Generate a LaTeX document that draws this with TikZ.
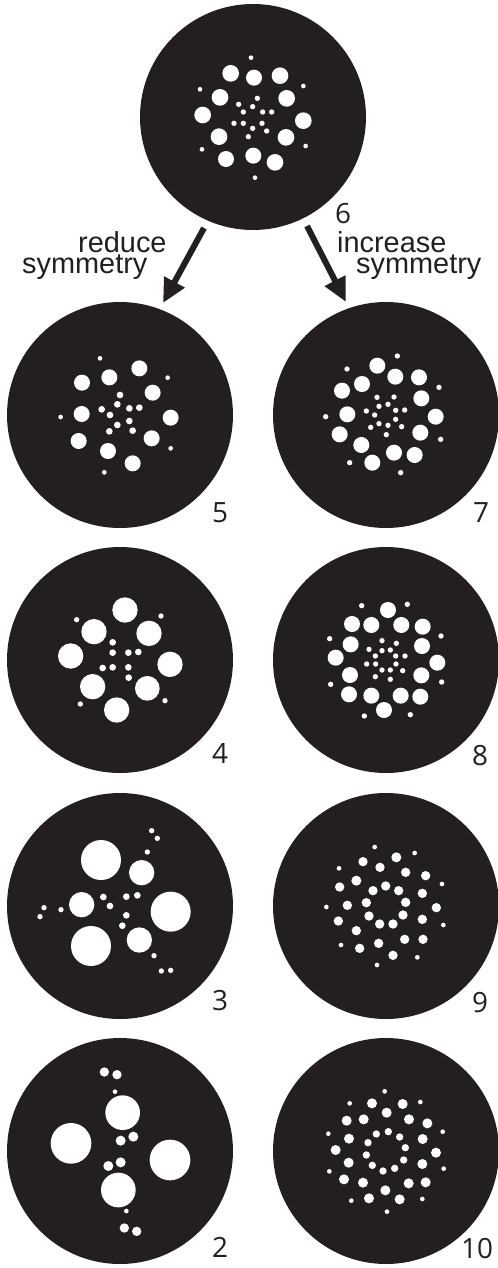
\documentclass[tikz,border=0pt]{standalone}
\usepackage{fontspec}
\setmainfont{Liberation Sans}
\newfontfamily\digitfont{Open Sans}
\usetikzlibrary{arrows.meta}
\definecolor{diskcol}{HTML}{231F20}
\begin{document}
\begin{tikzpicture}[x=1bp,y=-1bp,
  disk/.style={fill=diskcol},
  hole/.style={fill=white},
  lbl/.style={font=\fontsize{29}{21}\selectfont, text=diskcol, inner sep=0pt, align=left, anchor=base west},
  num/.style={font=\digitfont\fontsize{28}{28}\selectfont, text=diskcol, inner sep=0pt, anchor=base west},
  arr/.style={draw=diskcol, line width=6bp, -{Triangle[length=24bp,width=22bp]}},
  zoomed/.style={shift={#1}, scale=0.333333}]
\useasboundingbox (0,0) rectangle (498,1268);

% ---------- disk 6 ----------
\begin{scope}[zoomed={(140,0)}]
\fill[disk] (339,351) circle[radius=339];
\foreach \x/\y/\r in {272/220/25,342/233/24,420/227/25,240/292/25,440/295/25,188/345/25,
  490/362/25,237/410/25,438/412/25,258/477/24,340/467/24,405/487/25,
  333/173/7,180/268/7,490/258/7,186/448/7,497/438/7,345/533/7,
  352/295/8,296/313/8,338/320/8,310/336/8,368/336/8,395/336/8,282/370/8,310/370/8,
  366/370/8,338/385/8,380/393/8,325/410/8}
  \fill[hole] (\x,\y) circle[radius=\r];
\end{scope}

% ---------- disk 5 ----------
\begin{scope}[zoomed={(0,270)}]
\fill[disk] (360,435) circle[radius=339];
\foreach \x/\y/\r in {418/295/24,328/322/24,246/338/24,458/368/24,245/432/24,512/443/24,
  236/513/24,455/505/24,324/543/24,398/580/24,
  300/265/7,503/323/7,182/441/7,512/535/7,313/607/7,
  360/375/10,352/403/10,305/418/10,388/415/10,418/413/10,330/435/10,388/453/10,
  352/465/10,398/482/10,328/484/10}
  \fill[hole] (\x,\y) circle[radius=\r];
\end{scope}

% ---------- disk 7 ----------
\begin{scope}[zoomed={(258,270)}]
\fill[disk] (384,435) circle[radius=339];
\foreach \x/\y/\r in {358/287/24,412/320/24,483/322/24,312/342/24,252/362/24,490/385/24,
  268/433/24,533/440/24,245/493/24,487/488/24,310/525/24,408/548/24,470/555/24,343/578/24,
  418/258/8,267/297/8,543/352/8,203/440/8,548/508/8,275/578/8,428/608/8,
  357/382/8,408/381/8,390/403/8,363/409/8,325/423/8,413/421/8,440/420/8,350/435/8,
  413/448/8,363/461/8,390/466/8,338/472/8,431/470/8,385/494/8}
  \fill[hole] (\x,\y) circle[radius=\r];
\end{scope}

% ---------- disk 4 ----------
\begin{scope}[zoomed={(0,520)}]
\fill[disk] (360,420) circle[radius=339];
\foreach \x/\y/\r in {375/270/38,282/335/38,447/340/38,212/408/38,510/433/38,278/500/38,
  442/505/37,350/570/38,
  230/299/8,483/288/8,241/552/8,495/542/8,
  338/367/10,338/398/10,385/398/10,415/396/10,308/444/10,338/442/10,385/442/10,386/473/10}
  \fill[hole] (\x,\y) circle[radius=\r];
\end{scope}

% ---------- disk 8 ----------
\begin{scope}[zoomed={(258,520)}]
\fill[disk] (384,420) circle[radius=339];
\foreach \x/\y/\r in {390/270/24,282/312/24,340/315/24,430/315/24,494/320/24,278/373/24,
  492/378/24,233/413/24,538/428/24,276/465/24,490/466/24,273/523/24,340/527/24,428/527/24,
  487/530/24,378/570/24,
  311/257/8,448/253/8,215/356/8,549/348/8,218/493/8,551/486/8,319/588/8,457/584/8,
  372/362/8,415/370/8,333/388/8,372/392/8,397/390/8,352/408/8,413/408/8,441/408/8,
  326/432/8,353/432/8,414/432/8,372/450/8,397/450/8,434/452/8,352/470/8,397/478/8}
  \fill[hole] (\x,\y) circle[radius=\r];
\end{scope}

% ---------- disk 3 ----------
\begin{scope}[zoomed={(0,770)}]
\fill[disk] (360,408) circle[radius=339];
\foreach \x/\y/\r in {303/270/60,425/308/38,245/404/38,512/425/60,273/528/60,418/510/38,
  455/182/8,472/205/8,442/246/8,132/413/8,120/440/8,183/419/8,
  310/381/10,330/408/10,379/380/10,412/376/10,379/436/10,367/467/10,
  462/557/8,484/603/8,512/601/8}
  \fill[hole] (\x,\y) circle[radius=\r];
\end{scope}

% ---------- disk 9 ----------
\begin{scope}[zoomed={(258,770)}]
\fill[disk] (384,408) circle[radius=339];
\foreach \x/\y/\r in {350/231/7,470/249/7,243/295/7,552/342/7,205/411/7,556/465/7,
  249/525/7,478/562/7,357/585/7,
  383/348/14,345/362/14,422/362/14,325/398/14,443/397/14,333/438/14,435/435/14,
  365/462/14,405/462/14,
  415/262/15,315/275/14,366/292/14,443/307/14,503/317/14,295/332/15,245/351/14,
  493/370/14,268/406/14,535/413/14,241/453/14,493/448/14,295/482/14,362/520/14,
  440/508/14,495/508/14,305/535/14,405/556/14}
  \fill[hole] (\x,\y) circle[radius=\r];
\end{scope}

% ---------- disk 2 ----------
\begin{scope}[zoomed={(0,1020)}]
\fill[disk] (360,393) circle[radius=339];
\foreach \x/\y/\r in {313/156/14,351/164/14,345/215/7,368/278/52,213/370/61,362/362/15,
  400/350/15,510/420/61,325/438/15,362/427/15,355/510/52,379/573/7,373/624/14,410/634/14}
  \fill[hole] (\x,\y) circle[radius=\r];
\end{scope}

% ---------- disk 10 ----------
\begin{scope}[zoomed={(258,1020)}]
\fill[disk] (384,393) circle[radius=339];
\foreach \x/\y/\r in {380/214/7,275/250/7,487/246/7,211/341/7,554/335/7,214/454/7,
  557/446/7,280/542/7,493/537/7,387/575/7,
  391/335/11,355/342/11,425/351/11,330/368/11,442/383/11,325/405/11,437/420/11,
  343/436/11,410/445/11,375/453/11,
  342/250/15,434/252/15,386/278/15,266/302/15,317/298/15,453/298/15,508/310/15,
  273/356/15,494/357/15,233/390/15,534/398/15,272/428/15,493/432/15,258/478/15,
  315/488/15,452/490/15,503/487/15,382/511/15,333/535/15,425/538/15}
  \fill[hole] (\x,\y) circle[radius=\r];
\end{scope}

% ---------- labels ----------
\node[num] (n6) at (335,223) {6};
\node[num] (n5) at (212,522) {5};
\node[num] (n7) at (473,522) {7};
\node[num] (n4) at (212,763) {4};
\node[num] (n8) at (472,765) {8};
\node[num] (n3) at (212,1010) {3};
\node[num] (n9) at (472,1012) {9};
\node[num] (n2) at (212,1257) {2};
\node[num] (n10) at (461,1258) {10};

\node[lbl] (redsym) at (22,273) {\hspace*{56bp}reduce\\symmetry};
\node[lbl] (incsym) at (337,273) {increase\\\hspace*{19bp}symmetry};

% ---------- arrows ----------
\coordinate (a1s) at (204,228);
\coordinate (a1e) at (163,303);
\coordinate (a2s) at (307,226);
\coordinate (a2e) at (346,302);
\draw[arr] (a1s) -- (a1e);
\draw[arr] (a2s) -- (a2e);
\end{tikzpicture}
\end{document}
